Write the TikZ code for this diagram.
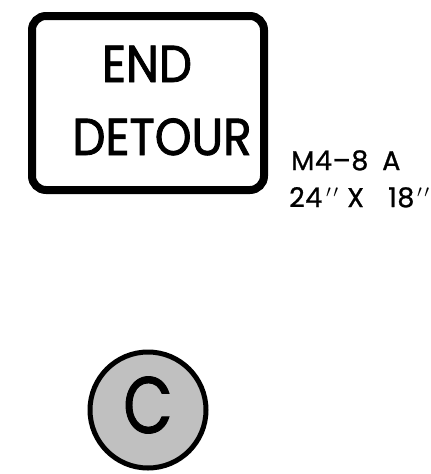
\documentclass[tikz,border=0pt]{standalone}
\usepackage{fontspec}
\setmainfont{Poppins}
\newfontfamily\signfont{Poppins}[FakeStretch=0.9, FakeBold=1.6]
\newfontfamily\circfont{Poppins}[FakeStretch=0.8, FakeBold=1.2]
\newfontfamily\labelfont{Poppins}[FakeBold=0.9, LetterSpace=2]
\newcommand{\dprime}{$'$\kern2pt$'$}
\begin{document}
\begin{tikzpicture}[x=1pt,y=-1pt,
  signtext/.style={inner sep=0pt, font=\signfont\fontsize{52}{52}\selectfont, anchor=base},
  labeltext/.style={inner sep=0pt, font=\labelfont\fontsize{27}{27}\selectfont, anchor=base west}]
\useasboundingbox (0,0) rectangle (431,474);
\draw[line width=8pt, rounded corners=14pt, fill=white] (32,16) rectangle (264,190);
\node[signtext] (end) at (147,82) {END};
\node[signtext] (detour) at (162,155) {DETOUR};
\node[labeltext] (code) at (291,170) {M4–8};
\node[labeltext] (codeA) at (382,170) {A};
\node[labeltext] (w) at (289,207) {24};
\node[labeltext] (wp) at (326,207) {\dprime};
\node[labeltext] (x) at (347,207) {X};
\node[labeltext] (h) at (388,207) {18};
\node[labeltext] (hp) at (417,207) {\dprime};
\node[circle, draw, line width=5pt, fill={rgb,255:red,192;green,192;blue,192}, minimum size=116pt, inner sep=0pt] (c) at (148,410) {};
\node[inner sep=0pt, font=\circfont\fontsize{80}{80}\selectfont, anchor=base] (cl) at (148,433) {C};
\end{tikzpicture}
\end{document}
